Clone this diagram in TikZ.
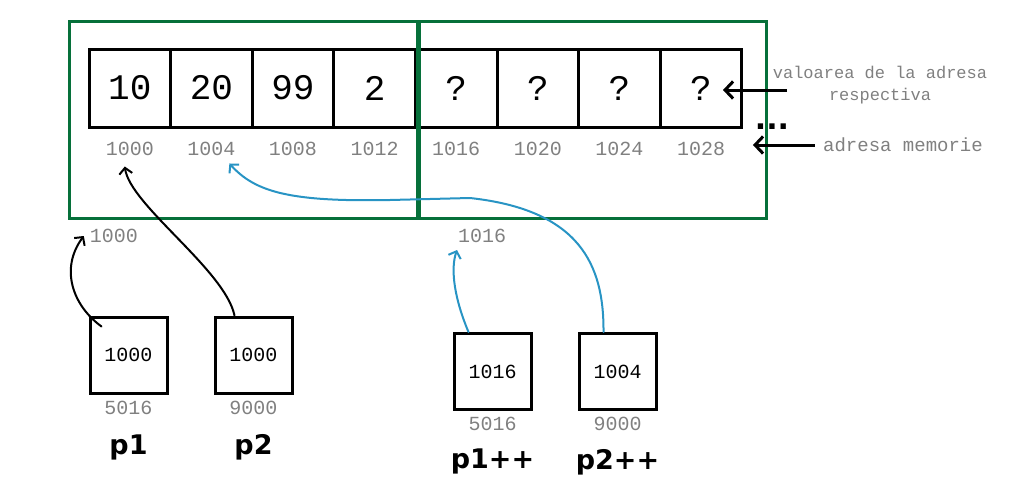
\documentclass[tikz,border=0pt]{standalone}
\usepackage{fontspec}
\setmonofont{Liberation Mono}
\newfontfamily\namefont{DejaVu Sans}
\usetikzlibrary{arrows.meta,positioning}
\definecolor{frameg}{RGB}{6,112,58}
\definecolor{linkb}{RGB}{40,148,196}
\definecolor{addrg}{RGB}{128,128,128}
\begin{document}
\begin{tikzpicture}[x=1pt,y=-1pt,
            cell/.style={rectangle, draw, line width=3pt, inner sep=0, minimum width=81.6pt, minimum height=78pt, font=\ttfamily\fontsize{36}{36}\selectfont},
            addr/.style={text=addrg, inner sep=0, font=\ttfamily\fontsize{20}{20}\selectfont},
            ptr/.style={rectangle, draw, line width=3pt, inner sep=0, minimum width=77pt, minimum height=76pt, font=\ttfamily\fontsize{20}{20}\selectfont},
            pname/.style={inner sep=0, font=\namefont\bfseries\fontsize{27}{27}\selectfont},
            note/.style={text=addrg, inner sep=0, align=center, font=\ttfamily\fontsize{17}{22}\selectfont},
            hand/.style={line width=2pt, line cap=round, -{Straight Barb[length=6pt,width=13pt]}},
            point/.style={line width=3pt, -{Straight Barb[length=8pt,width=17pt]}},
        ]
        \useasboundingbox (0,0) rectangle (1015,482);
        % memory cells
        \foreach \v [count=\i] in {10,20,99,2,?,?,?,?} {
            \pgfmathtruncatemacro{\adr}{996+4*\i}
            \node[cell] (v\i) at ({129.8+81.6*(\i-1)},88) {\v};
            \node[addr] (a\i) at ([yshift=-20pt]v\i.south) {\adr};
        }
        \draw[frameg, line width=3pt] (69,21) rectangle (417,218);
        \draw[frameg, line width=3pt] (419,21) rectangle (766,218);
        \node[inner sep=0, font=\namefont\bfseries\fontsize{30}{30}\selectfont] (dots) at (772,127) {...};
        % notes
        \node[note] (val) at (880,85) {valoarea de la adresa\\respectiva};
        \coordinate (valend) at (787,90);
        \draw[point] (valend) -- ([xshift=22pt]v8.center |- valend);
        \node[note, font=\ttfamily\fontsize{19}{19}\selectfont] (mem) at (903,145) {adresa memorie};
        \draw[point] ([xshift=-8pt]mem.west) -- ++(-62,0);
        % pointers
        \node[ptr] (p1) at (128.5,355) {1000};
        \node[ptr] (p2) at (253.5,355) {1000};
        \node[ptr] (p3) at (492.5,371.5) {1016};
        \node[ptr] (p4) at (617.5,371.5) {1004};
        \node[addr, below=6pt of p1] (m1) {5016};
        \node[addr, below=6pt of p2] (m2) {9000};
        \node[addr, below=6pt of p3] (m3) {5016};
        \node[addr, below=6pt of p4] (m4) {9000};
        \node[pname, below=20pt of m1] {p1};
        \node[pname, below=20pt of m2] {p2};
        \node[pname, below=18pt of m3] {p1++};
        \node[pname, below=18pt of m4] {p2++};
        \node[addr] (t1) at (114,236) {1000};
        \node[addr] (t2) at (482,236) {1016};
        % links
        \draw[hand] ([shift={(13,11)}]p1.north west) .. controls (72,305) and (60,268) .. ([xshift=-6pt]t1.west);
        \draw[hand] ([xshift=-19pt]p2.north) .. controls (225,270) and (130,205) .. ([shift={(-5,11)}]a1.south);
        \draw[hand, linkb] ([xshift=-24pt]p3.north) .. controls (455,300) and (450,270) .. ([shift={(-25,14)}]t2.center);
        \draw[hand, linkb] ([xshift=-14pt]p4.north) .. controls (604,265) and (580,210) .. (470,198)
            -- (390,200) .. controls (290,202) and (255,192) .. ([shift={(18,8)}]a2.south);
\end{tikzpicture}
\end{document}
